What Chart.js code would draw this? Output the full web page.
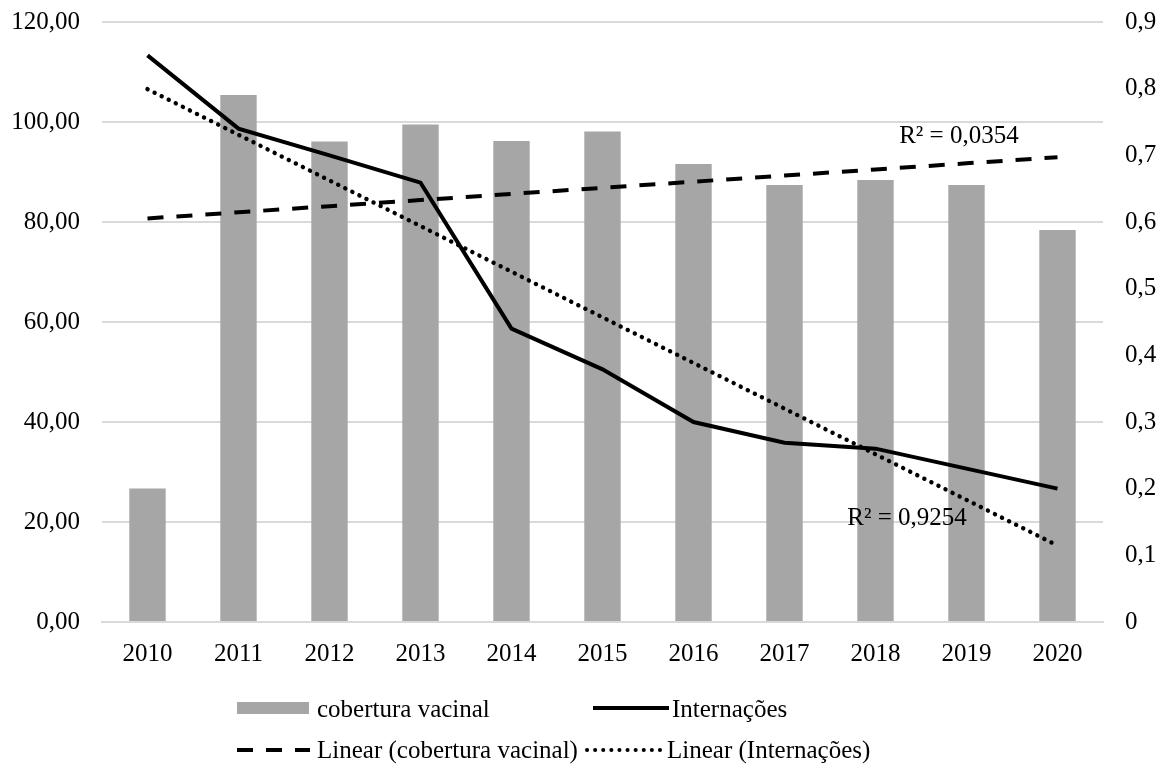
<!DOCTYPE html>
<html lang="pt-BR">
<head>
<meta charset="utf-8">
<title>Cobertura vacinal e internações, 2010–2020</title>
<script src="https://cdn.jsdelivr.net/npm/chart.js@4.4.1/dist/chart.umd.min.js"></script>
<style>
  html, body { margin: 0; padding: 0; background: #fff; }
  #wrap { position: relative; width: 1163px; height: 767px; overflow: hidden; }
  #chart { position: absolute; left: 0; top: -15px; }
  .lg { position: absolute; font-family: "Liberation Serif", "Times New Roman", serif; font-size: 25px; line-height: 30px; color: #000; white-space: nowrap; }
  .sw { position: absolute; }
</style>
</head>
<body>
<div id="wrap">
  <canvas id="chart" width="1163" height="782"></canvas>

  <!-- legend, row 1 -->
  <div class="sw" style="left:237px; top:702px; width:72px; height:12px; background:#a6a6a6;"></div>
  <div class="lg" style="left:317px; top:694px;">cobertura vacinal</div>
  <svg class="sw" style="left:593px; top:700px;" width="76" height="16"><line x1="0" y1="8" x2="76" y2="8" stroke="#000" stroke-width="4"/></svg>
  <div class="lg" style="left:672px; top:694px;">Internações</div>

  <!-- legend, row 2 -->
  <svg class="sw" style="left:237px; top:742px;" width="73" height="16"><line x1="0" y1="8" x2="73" y2="8" stroke="#000" stroke-width="4" stroke-dasharray="16 13"/></svg>
  <div class="lg" style="left:317px; top:735px;">Linear (cobertura vacinal)</div>
  <svg class="sw" style="left:585px; top:742px;" width="78" height="16"><line x1="2" y1="8" x2="76" y2="8" stroke="#000" stroke-width="4" stroke-linecap="round" stroke-dasharray="0.1 8"/></svg>
  <div class="lg" style="left:667px; top:735px;">Linear (Internações)</div>
</div>

<script>
// Anos
const anos = ['2010', '2011', '2012', '2013', '2014', '2015', '2016', '2017', '2018', '2019', '2020'];

// Cobertura vacinal (%), eixo esquerdo
const coberturaVacinal = [26.7, 105.4, 96.1, 99.5, 96.2, 98.1, 91.6, 87.4, 88.4, 87.4, 78.4];

// Internações, eixo direito
const internacoes = [0.850, 0.740, 0.700, 0.659, 0.440, 0.379, 0.300, 0.269, 0.260, 0.230, 0.200];

// Coeficientes de determinação das tendências lineares
const r2Cobertura = '0,0354';
const r2Internacoes = '0,9254';

// Limites dos eixos
const eixoEsq = { min: 0, max: 120, passo: 20 };
const eixoDir = { min: 0, max: 0.9, passo: 0.1 };

// Reta de mínimos quadrados sobre o índice do ano
function tendenciaLinear(valores) {
  const n = valores.length;
  const mx = (n - 1) / 2;
  const my = valores.reduce((a, b) => a + b, 0) / n;
  let sxy = 0, sxx = 0;
  valores.forEach((v, i) => { sxy += (i - mx) * (v - my); sxx += (i - mx) * (i - mx); });
  const b = sxy / sxx;
  const a = my - b * mx;
  return valores.map((_, i) => a + b * i);
}

const FONTE = '"Liberation Serif", "Times New Roman", serif';

// Rótulos R² junto às retas de tendência
const rotulosR2 = {
  id: 'rotulosR2',
  afterDatasetsDraw(chart, args, opts) {
    const { ctx, scales } = chart;
    ctx.save();
    ctx.font = '25px ' + FONTE;
    ctx.fillStyle = '#000';
    ctx.textAlign = 'left';
    ctx.textBaseline = 'middle';
    opts.itens.forEach(it => {
      ctx.fillText(it.texto, scales.x.getPixelForValue(it.x), scales.y.getPixelForValue(it.y));
    });
    ctx.restore();
  }
};

const fmtEsq = v => v.toFixed(2).replace('.', ',');
const fmtDir = v => (Math.abs(v) < 1e-9 ? '0' : v.toFixed(1).replace('.', ','));

new Chart(document.getElementById('chart'), {
  data: {
    labels: anos,
    datasets: [
      {
        type: 'line',
        label: 'Internações',
        data: internacoes,
        yAxisID: 'y1',
        borderColor: '#000',
        borderWidth: 4,
        pointRadius: 0,
        tension: 0,
        order: 1
      },
      {
        type: 'line',
        label: 'Linear (Internações)',
        data: tendenciaLinear(internacoes),
        yAxisID: 'y1',
        borderColor: '#000',
        borderWidth: 4.4,
        borderDash: [0.1, 7.8],
        borderCapStyle: 'round',
        pointRadius: 0,
        order: 2
      },
      {
        type: 'line',
        label: 'Linear (cobertura vacinal)',
        data: tendenciaLinear(coberturaVacinal),
        yAxisID: 'y',
        borderColor: '#000',
        borderWidth: 4,
        borderDash: [16, 13],
        pointRadius: 0,
        order: 3
      },
      {
        type: 'bar',
        label: 'cobertura vacinal',
        data: coberturaVacinal,
        yAxisID: 'y',
        backgroundColor: '#a6a6a6',
        borderWidth: 0,
        categoryPercentage: 1,
        barPercentage: 0.4,
        order: 10
      }
    ]
  },
  options: {
    responsive: false,
    animation: false,
    devicePixelRatio: 1,
    layout: { padding: { top: 6, bottom: 0, left: 0, right: 0 } },
    plugins: {
      legend: { display: false },
      tooltip: { enabled: false },
      rotulosR2: {
        itens: [
          { texto: 'R² = ' + r2Cobertura, x: 8.26, y: 97.2 },
          { texto: 'R² = ' + r2Internacoes, x: 7.69, y: 20.8 }
        ]
      }
    },
    scales: {
      x: {
        offset: true,
        grid: { display: false, drawTicks: false },
        border: { display: true, color: '#d9d9d9', width: 2 },
        ticks: { color: '#000', font: { family: FONTE, size: 25 }, padding: 17, maxRotation: 0 },
        afterFit(s) { s.height = 145; }
      },
      y: {
        position: 'left',
        min: eixoEsq.min,
        max: eixoEsq.max,
        ticks: { stepSize: eixoEsq.passo, color: '#000', font: { family: FONTE, size: 25 }, padding: 22, callback: v => fmtEsq(v) },
        grid: { color: '#d9d9d9', lineWidth: 2, drawTicks: false },
        border: { display: false },
        afterFit(s) { s.width = 102; }
      },
      y1: {
        position: 'right',
        min: eixoDir.min,
        max: eixoDir.max,
        ticks: { stepSize: eixoDir.passo, color: '#000', font: { family: FONTE, size: 25 }, padding: 22, callback: v => fmtDir(v) },
        grid: { display: false, drawTicks: false },
        border: { display: false },
        afterFit(s) { s.width = 60; }
      }
    }
  },
  plugins: [rotulosR2]
});
</script>
</body>
</html>
